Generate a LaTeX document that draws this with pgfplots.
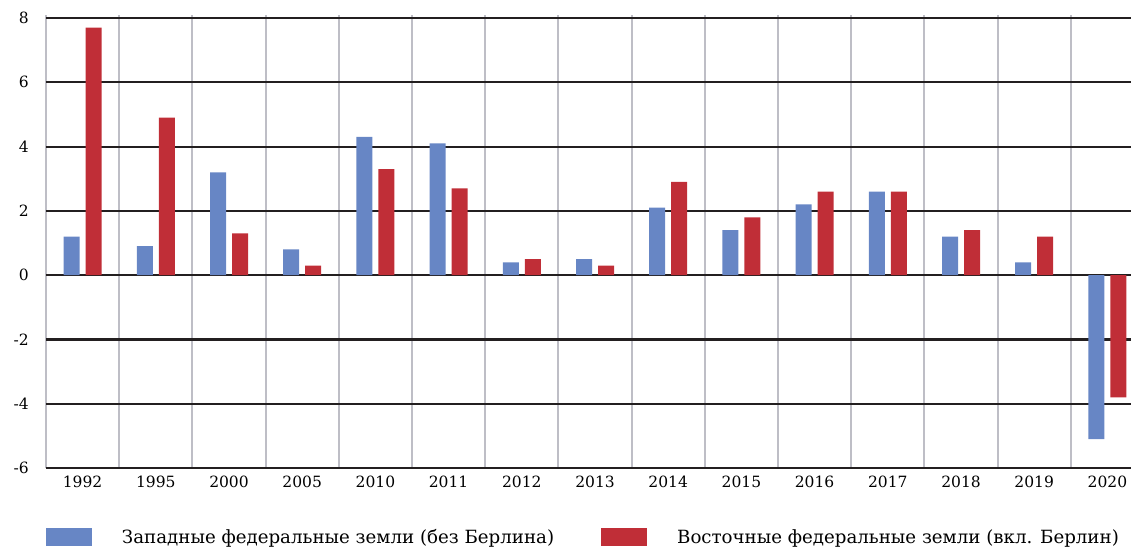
\documentclass[border=0pt]{standalone}
\usepackage{pgfplots}
\pgfplotsset{compat=1.18}
\usepackage{fontspec}
\setmainfont{DejaVu Serif}
\definecolor{westblue}{RGB}{103,134,197}
\definecolor{eastred}{RGB}{192,46,55}
\definecolor{gridgray}{RGB}{190,190,198}
\definecolor{gridblack}{RGB}{35,31,32}

\begin{document}
\begin{tikzpicture}
\begin{axis}[
  name=ax,
  x=73.2pt, y=32.14pt,
  xmin=-0.5, xmax=14.33, ymin=-6, ymax=8.1,
  ybar=6pt, bar width=16pt,
  axis line style={draw=none},
  major tick length=0pt, minor tick length=0pt,
  xtick={0,...,14},
  xticklabels={1992,1995,2000,2005,2010,2011,2012,2013,2014,2015,2016,2017,2018,2019,2020},
  minor xtick={-0.5,0.5,...,13.5},
  ytick={-6,-4,...,8},
  xminorgrids=true, ymajorgrids=true,
  x grid style={gridgray, line width=2pt},
  y grid style={gridblack, line width=2.2pt},
  tick label style={font=\fontsize{15.5}{18}\selectfont, inner sep=0pt},
  /pgf/number format/assume math mode=true,
  yticklabel style={anchor=east, xshift=-17pt},
  xticklabel style={anchor=north, yshift=-8pt},
  legend columns=2,
  legend style={draw=none, fill=none, inner sep=0pt, outer sep=0pt,
    font=\fontsize{18.2}{21}\selectfont,
    nodes={inner sep=0pt},
    /tikz/every odd column/.append style={column sep=30pt},
    /tikz/every even column/.append style={column sep=47pt},
    at={(0,-0.1523)}, anchor=west},
  legend image code/.code={\fill[#1,draw=none] (0pt,-9pt) rectangle (46pt,9pt);},
]
% Westdeutschland (ohne Berlin)
\addplot[fill=westblue, draw=none] coordinates {
(0,1.2) (1,0.9) (2,3.2) (3,0.8) (4,4.3) (5,4.1) (6,0.4) (7,0.5)
(8,2.1) (9,1.4) (10,2.2) (11,2.6) (12,1.2) (13,0.4) (14,-5.1)
};
% Ostdeutschland (inkl. Berlin)
\addplot[fill=eastred, draw=none] coordinates {
(0,7.7) (1,4.9) (2,1.3) (3,0.3) (4,3.3) (5,2.7) (6,0.5) (7,0.3)
(8,2.9) (9,1.8) (10,2.6) (11,2.6) (12,1.4) (13,1.2) (14,-3.8)
};
\legend{Западные федеральные земли (без Берлина), Восточные федеральные земли (вкл. Берлин)}
\end{axis}
\pgfresetboundingbox
\path[use as bounding box] ([shift={(-46pt,-79pt)}]ax.south west) rectangle ([shift={(1085pt,468pt)}]ax.south west);
\end{tikzpicture}
\end{document}
